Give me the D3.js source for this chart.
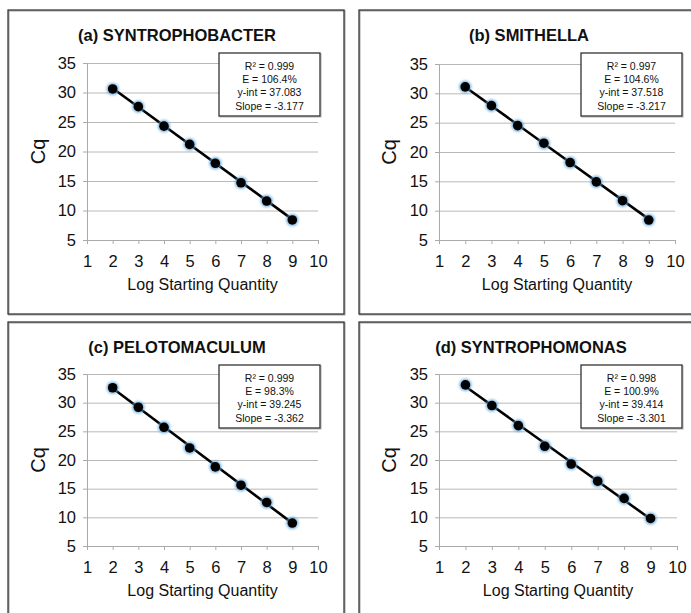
<!DOCTYPE html>
<html>
<head>
<meta charset="utf-8">
<script src="https://cdn.jsdelivr.net/npm/d3@7"></script>
<style>
  body { margin: 0; background: #fff; }
  text { font-family: "Liberation Sans", Arial, Helvetica, sans-serif; fill: #111; }
</style>
</head>
<body>
<div id="chart"></div>
<script>
// data
const logQty = [2, 3, 4, 5, 6, 7, 8, 9];
const cqA = [30.6, 27.6, 24.3, 21.2, 18.0, 14.7, 11.6, 8.4];
const cqB = [31.1, 27.9, 24.5, 21.5, 18.2, 14.9, 11.7, 8.4];
const cqC = [32.6, 29.2, 25.7, 22.1, 18.8, 15.6, 12.6, 9.0];
const cqD = [33.1, 29.5, 26.0, 22.4, 19.3, 16.3, 13.3, 9.8];
const titles = ["(a) SYNTROPHOBACTER", "(b) SMITHELLA", "(c) PELOTOMACULUM", "(d) SYNTROPHOMONAS"];
const rSquared = ["0.999", "0.997", "0.999", "0.998"];
const efficiency = ["106.4%", "104.6%", "98.3%", "100.9%"];
const yIntercept = [37.083, 37.518, 39.245, 39.414];
const slope = [-3.177, -3.217, -3.362, -3.301];
const xTicks = [1, 2, 3, 4, 5, 6, 7, 8, 9, 10];
const yTicks = [5, 10, 15, 20, 25, 30, 35];

const allCq = [cqA, cqB, cqC, cqD];

// panel placement (pixels)
const layout = [
  { px: 8,   py: 10,  pw: 336, ph: 304, left: 87,  right: 318, top: 63,  bottom: 240, bx: 219, by: 53,  tx: 177 },
  { px: 359, py: 10,  pw: 345, ph: 304, left: 439, right: 675, top: 64,  bottom: 240, bx: 581, by: 53,  tx: 529 },
  { px: 8,   py: 322, pw: 336, ph: 300, left: 87,  right: 318, top: 374, bottom: 546, bx: 219, by: 365, tx: 177 },
  { px: 359, py: 322, pw: 345, ph: 300, left: 439, right: 677, top: 374, bottom: 546, bx: 581, by: 365, tx: 531 }
];

const width = 691, height = 613;

const svg = d3.select("#chart")
  .append("svg")
  .attr("width", width)
  .attr("height", height);

const defs = svg.append("defs");
defs.append("filter")
  .attr("id", "glow")
  .attr("x", "-50%").attr("y", "-50%")
  .attr("width", "200%").attr("height", "200%")
  .append("feGaussianBlur")
  .attr("stdDeviation", 1.3);

layout.forEach((L, i) => {
  const g = svg.append("g");

  // panel frame
  g.append("rect")
    .attr("x", L.px + 0.8).attr("y", L.py + 0.8)
    .attr("width", L.pw).attr("height", L.ph)
    .attr("fill", "none")
    .attr("stroke", "#aaa")
    .attr("stroke-width", 1.5);
  g.append("rect")
    .attr("x", L.px).attr("y", L.py)
    .attr("width", L.pw).attr("height", L.ph)
    .attr("fill", "none")
    .attr("stroke", "#3a3a3a")
    .attr("stroke-width", 1.3);

  const x = d3.scaleLinear().domain([1, 10]).range([L.left, L.right]);
  const y = d3.scaleLinear().domain([5, 35]).range([L.bottom, L.top]);

  // gridlines
  g.append("g")
    .attr("transform", `translate(${L.left},0)`)
    .call(d3.axisLeft(y).tickValues(yTicks).tickSize(-(L.right - L.left)).tickFormat(""))
    .call(s => s.select(".domain").remove())
    .selectAll("line")
    .attr("stroke", "#b8b8b8")
    .attr("stroke-width", 1);

  // y axis
  const yAxis = g.append("g")
    .attr("transform", `translate(${L.left},0)`)
    .call(d3.axisLeft(y).tickValues(yTicks).tickSize(4).tickPadding(7).tickSizeOuter(0));
  yAxis.select(".domain").attr("stroke", "#aaa");
  yAxis.selectAll("line").attr("stroke", "#aaa");
  yAxis.selectAll("text")
    .attr("font-size", 16.5)
    .attr("fill", "#111")
    .style("font-family", "'Liberation Sans', Arial, sans-serif");

  // x axis
  const xAxis = g.append("g")
    .attr("transform", `translate(0,${L.bottom})`)
    .call(d3.axisBottom(x).tickValues(xTicks).tickSize(4).tickPadding(11).tickSizeOuter(0));
  xAxis.select(".domain").attr("stroke", "#aaa");
  xAxis.selectAll("line").attr("stroke", "#aaa");
  xAxis.selectAll("text")
    .attr("font-size", 16.5)
    .attr("fill", "#111")
    .style("font-family", "'Liberation Sans', Arial, sans-serif");

  // title
  g.append("text")
    .attr("x", L.tx)
    .attr("y", L.py + 31)
    .attr("text-anchor", "middle")
    .attr("font-size", 16.5)
    .attr("font-weight", "bold")
    .text(titles[i]);

  // axis labels
  g.append("text")
    .attr("x", (L.left + L.right) / 2)
    .attr("y", L.bottom + 50)
    .attr("text-anchor", "middle")
    .attr("font-size", 16)
    .text("Log Starting Quantity");

  g.append("text")
    .attr("transform", `translate(${L.px + 30},${(L.top + L.bottom) / 2}) rotate(-90)`)
    .attr("text-anchor", "middle")
    .attr("dy", "0.35em")
    .attr("font-size", 20)
    .text("Cq");

  // trend line from the printed fit
  const x0 = d3.min(logQty), x1 = d3.max(logQty);
  g.append("line")
    .attr("x1", x(x0)).attr("y1", y(yIntercept[i] + slope[i] * x0))
    .attr("x2", x(x1)).attr("y2", y(yIntercept[i] + slope[i] * x1))
    .attr("stroke", "#000")
    .attr("stroke-width", 2.6);

  const pts = logQty.map((q, j) => ({ q: q, cq: allCq[i][j] }));

  g.append("g")
    .selectAll("circle")
    .data(pts)
    .join("circle")
    .attr("cx", d => x(d.q))
    .attr("cy", d => y(d.cq))
    .attr("r", 6.3)
    .attr("fill", "#5ea8e0")
    .attr("opacity", 0.75)
    .attr("filter", "url(#glow)");

  g.append("g")
    .selectAll("circle")
    .data(pts)
    .join("circle")
    .attr("cx", d => x(d.q))
    .attr("cy", d => y(d.cq))
    .attr("r", 4.8)
    .attr("fill", "#000");

  // stats box
  const bw = 101, bh = 63;
  g.append("rect")
    .attr("x", L.bx + 1).attr("y", L.by + 1)
    .attr("width", bw).attr("height", bh)
    .attr("fill", "none")
    .attr("stroke", "#bbb")
    .attr("stroke-width", 1.2);
  g.append("rect")
    .attr("x", L.bx).attr("y", L.by)
    .attr("width", bw).attr("height", bh)
    .attr("fill", "#fff")
    .attr("stroke", "#333")
    .attr("stroke-width", 1.3);

  const lines = [
    `R\u00B2 = ${rSquared[i]}`,
    `E = ${efficiency[i]}`,
    `y-int = ${yIntercept[i].toFixed(3)}`,
    `Slope = ${slope[i].toFixed(3)}`
  ];
  g.append("g")
    .selectAll("text")
    .data(lines)
    .join("text")
    .attr("x", L.bx + bw / 2)
    .attr("y", (d, k) => L.by + 17 + k * 13.2)
    .attr("text-anchor", "middle")
    .attr("font-size", 10.5)
    .attr("fill", "#222")
    .text(d => d);
});
</script>
</body>
</html>
